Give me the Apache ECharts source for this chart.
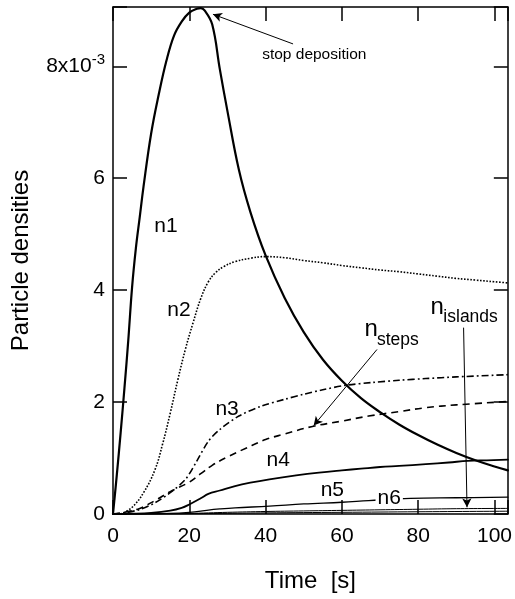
<!DOCTYPE html>
<html>
<head>
<meta charset="utf-8">
<script src="https://cdn.jsdelivr.net/npm/echarts@6/dist/echarts.min.js"></script>
<style>
html,body{margin:0;padding:0;background:#fff;}
#c{width:515px;height:599px;}
</style>
</head>
<body>
<div id="c"></div>
<script>
// ---- data (time in s, densities in units of 1e-3) ----
var n1T = [0,1,2,3,4,5,6,7,8,10,12,14,16,18,20,22,23,24,26,28,30,33,36,40,45,50,55,60,65,70,75,80,85,90,95,100,103.5];
var n1V = [0,0.7,1.45,2.25,3.1,4.05,4.75,5.3,5.85,6.8,7.5,8.1,8.55,8.8,8.96,9.03,9.04,9.0,8.75,7.95,7.2,6.15,5.4,4.62,3.86,3.25,2.76,2.38,2.07,1.82,1.6,1.41,1.24,1.09,0.96,0.85,0.78];

var n2T = [2,5,8,11,13,15,17,19,21,23,25,27,29,32,36,40,45,50,55,60,65,70,75,80,85,90,95,100,103.5];
var n2V = [0,0.12,0.38,0.79,1.25,1.8,2.4,2.95,3.42,3.85,4.15,4.32,4.42,4.51,4.57,4.6,4.58,4.53,4.49,4.44,4.4,4.36,4.33,4.29,4.25,4.21,4.18,4.15,4.13];

var n3T = [0,3,7,11,15,19,22,25,28,33,39,45,50,55,61,68,75,82,90,103.5];
var n3V = [0,0.02,0.08,0.2,0.38,0.62,0.95,1.3,1.51,1.75,1.93,2.05,2.14,2.22,2.3,2.35,2.39,2.42,2.45,2.49];

var nStepsT = [0,3,7,11,15,20,23,26,30,35,40,45,52,60,67,75,82,90,103.5];
var nStepsV = [0,0.03,0.1,0.24,0.4,0.57,0.72,0.87,1.02,1.18,1.33,1.43,1.56,1.66,1.75,1.83,1.9,1.95,2.01];

var n4T = [0,5,10,15,18,20,23,25,28,32,36,41,48,54,60,65,70,75,82,88,93,98,103.5];
var n4V = [0,0.005,0.02,0.06,0.11,0.17,0.28,0.36,0.42,0.5,0.56,0.62,0.69,0.74,0.78,0.81,0.84,0.86,0.89,0.92,0.95,0.96,0.97];

var n5T = [0,10,15,20,23,25,28,32,41,50,60,67,78,90,103.5];
var n5V = [0,0.003,0.01,0.03,0.05,0.07,0.09,0.11,0.14,0.18,0.21,0.24,0.28,0.29,0.3];

var n6T = [0,15,20,25,30,40,50,60,70,80,90,103.5];
var n6V = [0,0.002,0.01,0.02,0.03,0.045,0.055,0.065,0.075,0.085,0.095,0.1];

var nIslT = [0,20,25,30,40,60,80,103.5];
var nIslV = [0,0.003,0.008,0.012,0.02,0.03,0.04,0.05];

var xTicks = [0,20,40,60,80,100];
var yTicks = [0,2,4,6,8];

function pairs(t, v){ return t.map(function(x,i){ return [x, v[i]]; }); }

var FONT = '"Liberation Sans", Arial, Helvetica, sans-serif';
var chart = echarts.init(document.getElementById('c'), null, {renderer:'canvas'});

function lineSeries(name, t, v, width, type, sm){
  return {
    name: name, type: 'line', data: pairs(t, v),
    xAxisIndex: 0, yAxisIndex: 0,
    showSymbol: false, symbol: 'none', smooth: sm,
    lineStyle: {color: '#000', width: width, type: type, join: 'round', cap: (type === 'solid' ? 'round' : 'butt')},
    animation: false, silent: true, z: 3
  };
}

var axisCommon = {
  type: 'value',
  axisLine: {show: true, onZero: false, lineStyle: {color: '#000', width: 1.5}},
  axisTick: {show: true, inside: true, length: 14, lineStyle: {color: '#000', width: 1.5}},
  splitLine: {show: false}
};

var series = [
  lineSeries('n1', n1T, n1V, 2.2, 'solid', 0.4),
  lineSeries('n2', n2T, n2V, 1.6, [1.6, 1.6], 0.4),
  lineSeries('n3', n3T, n3V, 1.6, [7, 3, 1.8, 3], 0.3),
  lineSeries('nsteps', nStepsT, nStepsV, 1.6, [7, 5], 0.4),
  lineSeries('n4', n4T, n4V, 1.8, 'solid', 0.4),
  lineSeries('n5', n5T, n5V, 1.3, 'solid', 0.4),
  lineSeries('n6', n6T, n6V, 1.0, 'solid', 0.4),
  lineSeries('nislands', nIslT, nIslV, 1.0, 'solid', 0.4)
];

// annotation arrows (data coords)
series[0].markLine = {
  silent: true, animation: false,
  symbol: ['none', 'arrow'], symbolSize: [7, 9],
  label: {show: false},
  lineStyle: {color: '#000', width: 1, type: 'solid'},
  data: [
    [{coord: [47.2, 8.40]}, {coord: [26.2, 8.93]}],
    [{coord: [69.2, 2.94]}, {coord: [52.6, 1.58]}],
    [{coord: [91.9, 3.33]}, {coord: [92.8, 0.12]}]
  ]
};

chart.setOption({
  backgroundColor: '#fff',
  animation: false,
  grid: {left: 113, right: 7, top: 7, bottom: 85, containLabel: false},
  xAxis: [
    Object.assign({}, axisCommon, {
      position: 'bottom', min: 0, max: 103.5, interval: 20,
      name: 'Time  [s]', nameLocation: 'middle', nameGap: 55,
      nameTextStyle: {fontFamily: FONT, fontSize: 24, color: '#000'},
      axisLabel: {
        margin: 12, fontFamily: FONT, fontSize: 21, color: '#000',
        formatter: function(v){ return xTicks.indexOf(v) >= 0 ? String(v) : ''; }
      }
    }),
    Object.assign({}, axisCommon, {
      position: 'top', min: 0, max: 103.5, interval: 20,
      axisLabel: {show: false}
    })
  ],
  yAxis: [
    Object.assign({}, axisCommon, {
      position: 'left', min: 0, max: 9.06, interval: 2,
      name: 'Particle densities', nameLocation: 'middle', nameGap: 80,
      nameTextStyle: {fontFamily: FONT, fontSize: 24, color: '#000'},
      axisLabel: {
        margin: 8, color: '#000',
        formatter: function(v){
          if (yTicks.indexOf(v) < 0) return '';
          if (v === 8) return '{b|8x10}{s|-3}';
          return '{b|' + v + '}';
        },
        rich: {
          b: {fontFamily: FONT, fontSize: 21, color: '#000', lineHeight: 28},
          s: {fontFamily: FONT, fontSize: 15, color: '#000', lineHeight: 28, verticalAlign: 'top'}
        }
      }
    }),
    Object.assign({}, axisCommon, {
      position: 'right', min: 0, max: 9.06, interval: 2,
      axisLabel: {show: false}
    })
  ],
  series: series
});

// text annotations placed in data coordinates
function P(t, y){ return chart.convertToPixel({xAxisIndex: 0, yAxisIndex: 0}, [t, y]); }
function txt(t, y, s, size, opts){
  var p = P(t, y);
  var st = Object.assign({text: s, fontFamily: FONT, fontSize: size, fill: '#000',
    textAlign: 'center', textVerticalAlign: 'middle'}, opts || {});
  return {type: 'text', x: p[0], y: p[1], style: st, z: 10, silent: true};
}
var g = [
  txt(13.9, 5.15, 'n1', 21),
  txt(17.3, 3.65, 'n2', 21),
  txt(29.9, 1.88, 'n3', 21),
  txt(43.3, 0.96, 'n4', 21),
  txt(57.5, 0.42, 'n5', 21),
  txt(72.4, 0.28, 'n6', 21, {backgroundColor: '#fff', padding: [0, 2, 0, 2]}),
  txt(39.1, 8.2, 'stop deposition', 15.5, {textAlign: 'left'}),
  txt(65.9, 3.3, 'n', 24, {textAlign: 'left'}),
  txt(69.2, 3.1, 'steps', 17.5, {textAlign: 'left'}),
  txt(83.2, 3.69, 'n', 24, {textAlign: 'left'}),
  txt(86.6, 3.52, 'islands', 17.5, {textAlign: 'left'})
];
chart.setOption({graphic: g});
</script>
</body>
</html>
